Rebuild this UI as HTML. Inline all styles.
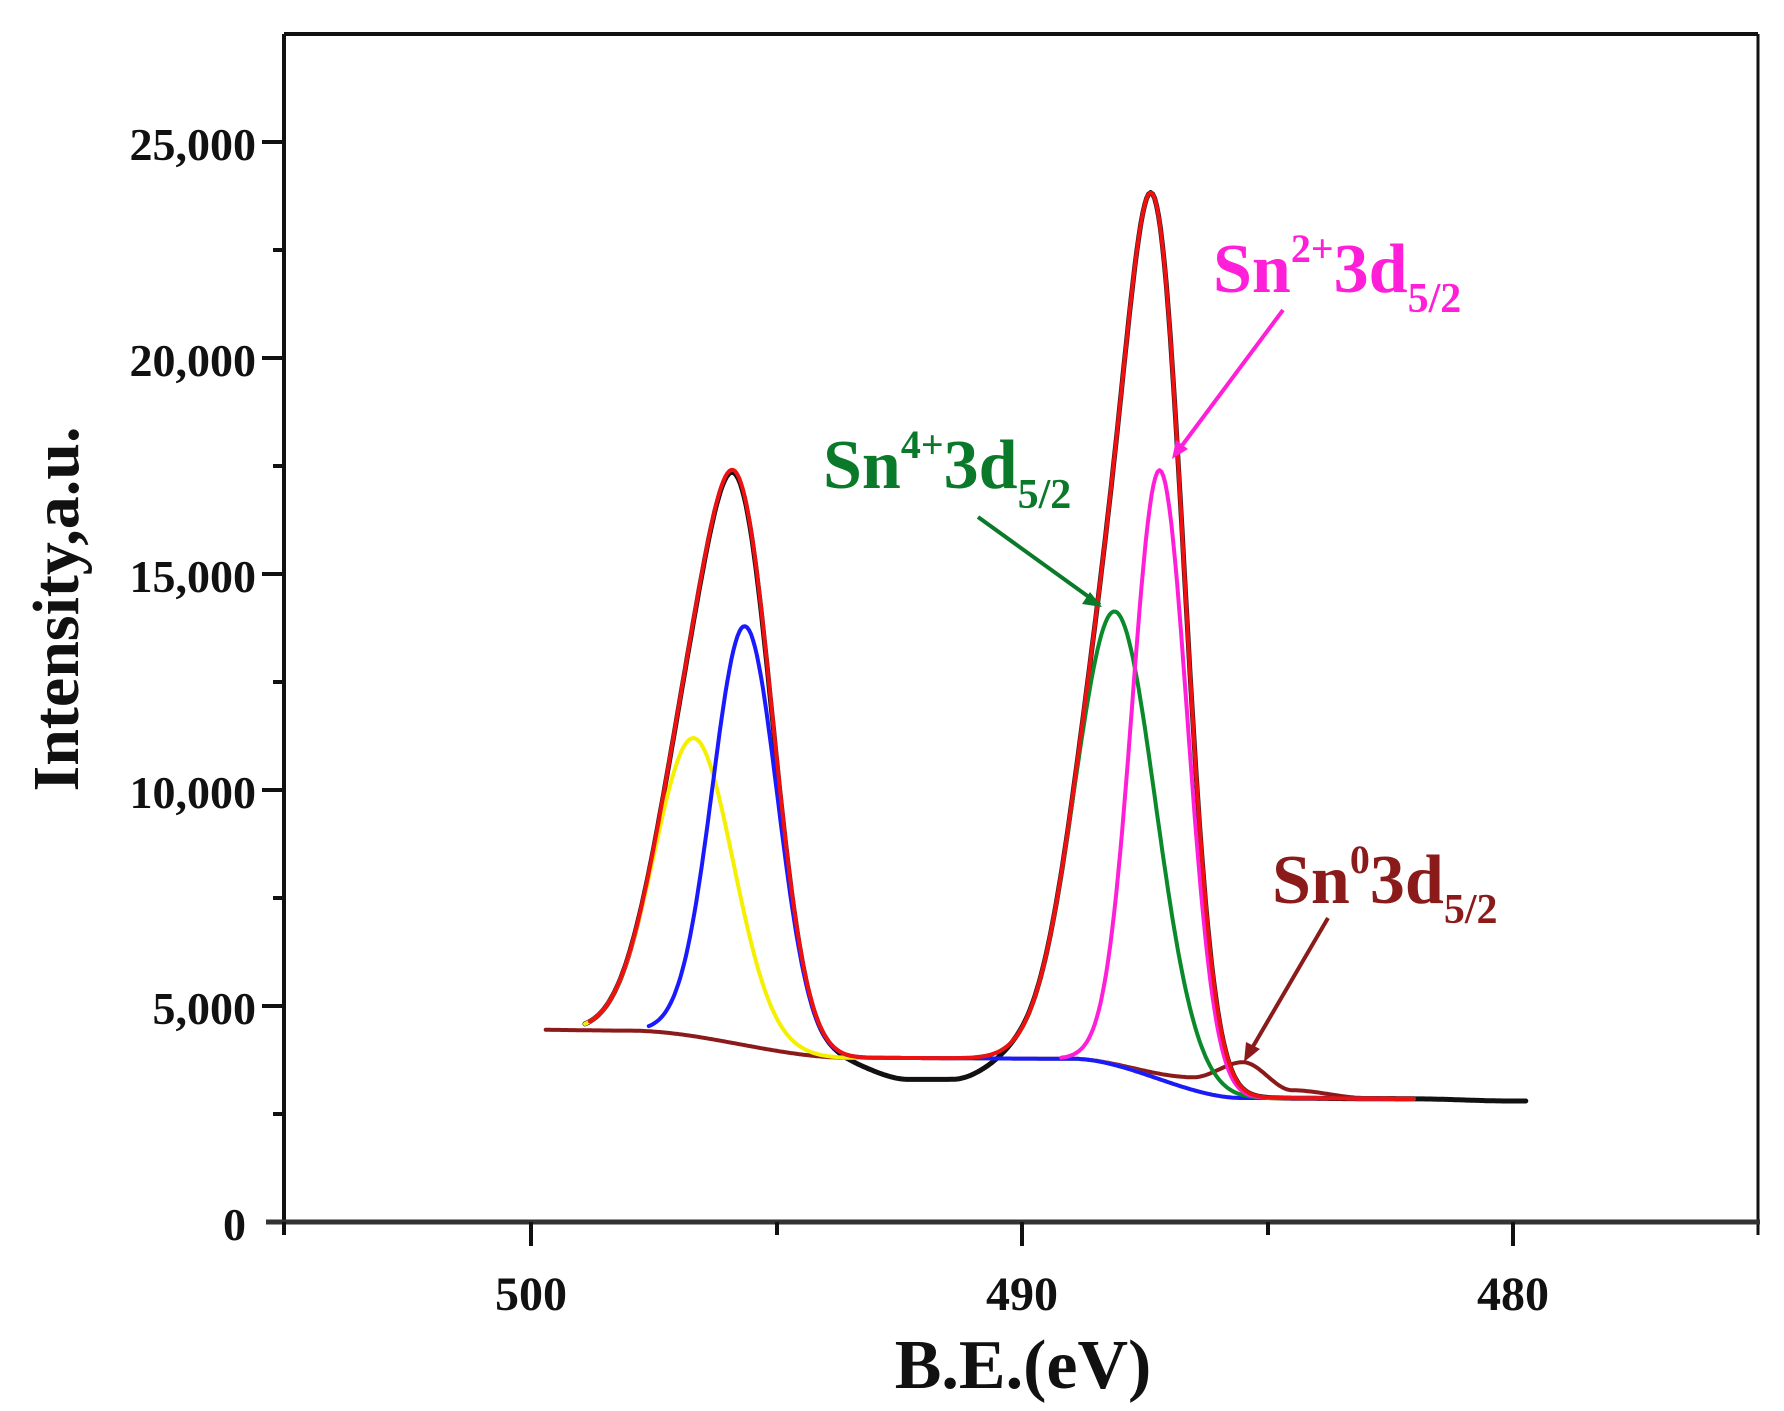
<!DOCTYPE html>
<html><head><meta charset="utf-8"><style>
html,body{margin:0;padding:0;background:#fff;}
svg{display:block;}
text{font-family:"Liberation Serif",serif;font-weight:bold;}
</style></head><body>
<svg id="s" width="1784" height="1411" viewBox="0 0 1784 1411" xmlns="http://www.w3.org/2000/svg">
<rect width="1784" height="1411" fill="#fff"/>
<g id="curves" fill="none" stroke-linejoin="round" stroke-linecap="round"></g>
<g stroke="#111" fill="none">
<line x1="284" y1="34" x2="1758" y2="34" stroke-width="4"/>
<line x1="284" y1="34" x2="284" y2="1224" stroke-width="4"/>
<line x1="1758" y1="34" x2="1758" y2="1235" stroke-width="3"/>
<line x1="266" y1="1222" x2="1760" y2="1222" stroke-width="5" stroke="#333"/>
<g stroke-width="4">
<line x1="262" y1="142" x2="284" y2="142"/><line x1="262" y1="358" x2="284" y2="358"/>
<line x1="262" y1="574" x2="284" y2="574"/><line x1="262" y1="790" x2="284" y2="790"/>
<line x1="262" y1="1006" x2="284" y2="1006"/>
<line x1="273" y1="250" x2="284" y2="250"/><line x1="273" y1="466" x2="284" y2="466"/>
<line x1="273" y1="682" x2="284" y2="682"/><line x1="273" y1="898" x2="284" y2="898"/>
<line x1="273" y1="1114" x2="284" y2="1114"/>
<line x1="531" y1="1222" x2="531" y2="1246"/><line x1="1022" y1="1222" x2="1022" y2="1246"/>
<line x1="1513" y1="1222" x2="1513" y2="1246"/>
<line x1="777" y1="1222" x2="777" y2="1235"/><line x1="1268" y1="1222" x2="1268" y2="1235"/>
<line x1="284" y1="1222" x2="284" y2="1235"/>
</g></g>
<g font-size="46" text-anchor="end" fill="#111">
<text x="256" y="160">25,000</text><text x="256" y="376">20,000</text>
<text x="256" y="592">15,000</text><text x="256" y="808">10,000</text>
<text x="256" y="1024">5,000</text><text x="246" y="1240">0</text>
</g>
<g font-size="48" text-anchor="middle" fill="#111">
<text x="531" y="1310">500</text><text x="1022" y="1310">490</text><text x="1513" y="1310">480</text>
</g>
<text x="1023" y="1388" font-size="70" text-anchor="middle" fill="#111">B.E.(eV)</text>
<text transform="translate(78,609) rotate(-90)" font-size="66" text-anchor="middle" fill="#111">Intensity,a.u.</text>
<text x="823" y="488" font-size="70" fill="#0a7a2a">Sn<tspan dy="-30" font-size="40">4+</tspan><tspan dy="30">3d</tspan><tspan dy="20" font-size="42">5/2</tspan></text>
<line x1="978" y1="517" x2="1100" y2="605" stroke="#0a7a2a" stroke-width="4"/>
<polygon points="1102,607 1082,604 1090,592" fill="#0a7a2a"/>
<text x="1213" y="292" font-size="70" fill="#ff1fd8">Sn<tspan dy="-30" font-size="40">2+</tspan><tspan dy="30">3d</tspan><tspan dy="20" font-size="42">5/2</tspan></text>
<line x1="1283" y1="310" x2="1175" y2="455" stroke="#ff1fd8" stroke-width="4"/>
<polygon points="1172,459 1176,440 1188,449" fill="#ff1fd8"/>
<text x="1272" y="903" font-size="70" fill="#8b1a1a">Sn<tspan dy="-30" font-size="40">0</tspan><tspan dy="30">3d</tspan><tspan dy="20" font-size="42">5/2</tspan></text>
<line x1="1328" y1="918" x2="1248" y2="1055" stroke="#8b1a1a" stroke-width="4"/>
<polygon points="1244,1062 1246,1042 1260,1049" fill="#8b1a1a"/>
</svg>
<script>
(function(){
var X=function(E){return 531+(500-E)*49.1;};
var Y=function(I){return 1222-I*0.0432;};
function lerp(pts,E){for(var i=0;i<pts.length-1;i++){var a=pts[i],b=pts[i+1];if(E<=a[0]&&E>=b[0]){var t=(a[0]-E)/(a[0]-b[0]);t=t*t*(3-2*t);return a[1]+(b[1]-a[1])*t;}}return E>pts[0][0]?pts[0][1]:pts[pts.length-1][1];}
var base=[[500,4450],[498,4430],[493.5,3800],[489,3780],[485.5,2870],[479,2820]];
var bgbrown=[[500,4450],[498,4430],[493.5,3800],[489,3780],[486.5,3350],[485.5,3700],[484.5,3050],[483,2870],[479,2820]];
var blk=[[500,4450],[498,4430],[494,3800],[492.3,3300],[491.4,3300],[490,3800],[489,3780],[485.5,2870],[482,2850],[480,2800]];
function g(E,c,s,a){return a*Math.exp(-(E-c)*(E-c)/(2*s*s));}
var Y1=function(E){return g(E,496.68,0.8,6900);},B1=function(E){return g(E,495.64,0.66,9700);},
G1=function(E){return g(E,488.1,0.82,10500);},M1=function(E){return g(E,487.19,0.56,14100);};
function path(f,E0,E1){var d="";for(var E=E0;E>=E1;E-=0.04){d+=(d?"L":"M")+X(E).toFixed(1)+","+Y(f(E)).toFixed(1);}return d;}
var G=document.getElementById("curves");
function add(d,c,w){var p=document.createElementNS("http://www.w3.org/2000/svg","path");p.setAttribute("d",d);p.setAttribute("stroke",c);p.setAttribute("stroke-width",w);G.appendChild(p);}
var sum=function(E){return Y1(E)+B1(E)+G1(E)+M1(E);};
add(path(function(E){return lerp(blk,E)+sum(E);},498.9,479.7),"#111",5);
add(path(function(E){return lerp(bgbrown,E);},499.7,482),"#8b1a1a",4);
add(path(function(E){return lerp(base,E)+Y1(E);},498.9,484.5),"#f5f000",4);
add(path(function(E){return lerp(base,E)+B1(E);},497.6,485),"#1a1aff",4);
add(path(function(E){return lerp(base,E)+G1(E);},490.9,482),"#0a8a2a",4);
add(path(function(E){return lerp(base,E)+M1(E);},489.2,482),"#ff1fd8",4);
add(path(function(E){return lerp(base,E)+sum(E);},498.8,482),"#ee1111",4);
})();
</script>
</body></html>
